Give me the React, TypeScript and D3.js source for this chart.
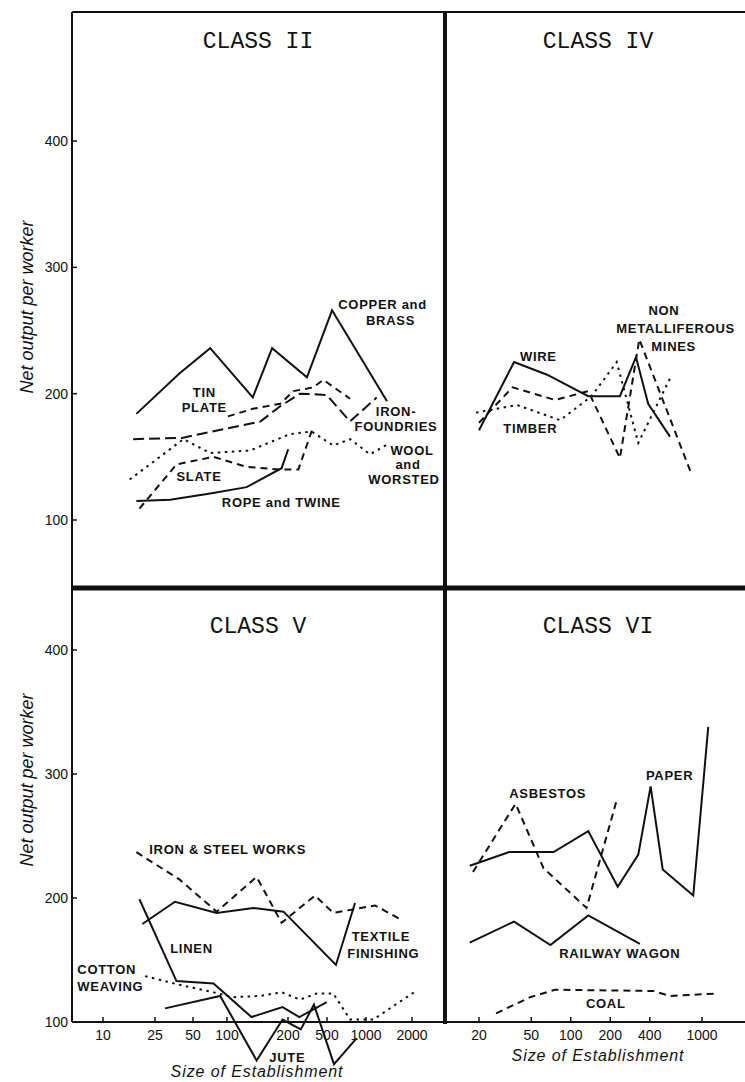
import React, { useEffect, useRef } from "react";
import * as d3 from "d3";

const W = 745;
const H = 1082;

// axis ticks
const sizeTicksLeft = [10, 25, 50, 100, 200, 500, 1000, 2000];
const sizeTicksRight = [20, 50, 100, 200, 400, 1000];
const outputTicks = [100, 200, 300, 400];

// CLASS II  (size of establishment, net output per worker)
const copperSizes = [18, 39, 71, 134, 167, 312, 547, 1372];
const copperValues = [184, 216, 236, 197, 236, 213, 266, 194];
const tinSizes = [101, 134, 183, 227, 362, 458, 753];
const tinValues = [182, 188, 192, 202, 205, 211, 196];
const ironFoundSizes = [17, 41, 146, 183, 265, 496, 753, 1175];
const ironFoundValues = [164, 165, 178, 190, 200, 199, 178, 197];
const woolSizes = [16, 42, 71, 130, 209, 349, 559, 753, 1062, 1436];
const woolValues = [132, 164, 153, 155, 168, 170, 159, 164, 152, 161];
const slateSizes = [19, 37, 76, 125, 183, 255, 362];
const slateValues = [109, 144, 150, 142, 140, 140, 174];
const ropeSizes = [18, 33, 71, 125, 186, 201];
const ropeValues = [115, 116, 121, 126, 141, 156];

// CLASS IV
const wireSizes = [20, 37, 66, 136, 237, 314, 389, 570];
const wireValues = [171, 225, 215, 198, 198, 229, 192, 166];
const nonMetSizes = [20, 36, 76, 136, 237, 333, 834];
const nonMetValues = [177, 205, 195, 202, 149, 243, 136];
const timberSizes = [19, 39, 83, 144, 224, 327, 570];
const timberValues = [185, 191, 179, 198, 225, 161, 212];

// CLASS V
const ironSteelSizes = [18, 39, 81, 140, 186, 377, 559, 1145, 1669];
const ironSteelValues = [237, 215, 189, 217, 180, 202, 188, 194, 183];
const textileSizes = [20, 36, 81, 135, 190, 586, 822];
const textileValues = [179, 197, 188, 192, 189, 146, 196];
const linenSizes = [19, 37, 76, 132, 188, 261, 497];
const linenValues = [199, 133, 131, 104, 112, 104, 116];
const juteSizes = [30, 87, 140, 188, 270, 368, 566, 848];
const juteValues = [111, 121, 69, 102, 94, 114, 66, 87];
const cottonSizes = [21, 39, 84, 107, 146, 186, 265, 392, 559, 753, 1116, 2124];
const cottonValues = [137, 130, 123, 120, 121, 124, 118, 123, 123, 102, 102, 125];

// CLASS VI
const paperSizes = [17, 34, 74, 136, 228, 327, 406, 502, 858, 1116];
const paperValues = [226, 237, 237, 254, 209, 235, 290, 223, 202, 338];
const asbestosSizes = [18, 38, 62, 132, 224];
const asbestosValues = [221, 276, 224, 192, 279];
const wagonSizes = [17, 37, 70, 136, 336];
const wagonValues = [164, 181, 162, 186, 163];
const coalSizes = [27, 49, 76, 425, 570, 1330];
const coalValues = [107, 120, 126, 125, 121, 123];

const dashes: Record<string, string | null> = {
  solid: null,
  dashed: "7,5",
  longdash: "11,5",
  dotted: "2.5,4.5"
};

function zip(xs: number[], ys: number[]) {
  return xs.map((x, i) => [x, ys[i]] as [number, number]);
}

// panel frame geometry
const left = 72, mid = 445, right = W, top = 12, split = 588, bottom = 1022;

const xLeft = d3.scaleLog().domain(sizeTicksLeft).range([103, 155, 193, 227, 288, 327, 366, 412]);
const xRight = d3.scaleLog().domain([20, 1000]).range([479, 702]);
const yTop = d3.scaleLinear().domain([100, 400]).range([520, 141]);
const yBottom = d3.scaleLinear().domain([100, 400]).range([bottom, 650]);

const panels = [
  {
    title: "CLASS II", x: xLeft, y: yTop, cx: 258, ty: 48,
    series: [
      { data: zip(copperSizes, copperValues), style: "solid" },
      { data: zip(tinSizes, tinValues), style: "dashed" },
      { data: zip(ironFoundSizes, ironFoundValues), style: "longdash" },
      { data: zip(woolSizes, woolValues), style: "dotted" },
      { data: zip(slateSizes, slateValues), style: "dashed" },
      { data: zip(ropeSizes, ropeValues), style: "solid" }
    ],
    labels: [
      { t: "COPPER and", s: 611, v: 267, a: "start" },
      { t: "BRASS", s: 1000, v: 254, a: "start" },
      { t: "TIN", s: 63, v: 197.5, a: "middle" },
      { t: "PLATE", s: 63, v: 185.7, a: "middle" },
      { t: "IRON-", s: 1572, v: 182.5, a: "middle" },
      { t: "FOUNDRIES", s: 1572, v: 170.7, a: "middle" },
      { t: "WOOL", s: 2000, v: 151.5, a: "middle" },
      { t: "and", s: 1883, v: 140, a: "middle" },
      { t: "WORSTED", s: 1773, v: 128.5, a: "middle" },
      { t: "SLATE", s: 37, v: 131, a: "start" },
      { t: "ROPE and TWINE", s: 90, v: 110, a: "start" }
    ]
  },
  {
    title: "CLASS IV", x: xRight, y: yTop, cx: 598, ty: 48,
    series: [
      { data: zip(wireSizes, wireValues), style: "solid" },
      { data: zip(nonMetSizes, nonMetValues), style: "dashed" },
      { data: zip(timberSizes, timberValues), style: "dotted" }
    ],
    labels: [
      { t: "NON", s: 513, v: 262, a: "middle" },
      { t: "METALLIFEROUS", s: 630, v: 248, a: "middle" },
      { t: "MINES", s: 608, v: 234, a: "middle" },
      { t: "WIRE", s: 41, v: 226, a: "start" },
      { t: "TIMBER", s: 30.6, v: 169, a: "start" }
    ]
  },
  {
    title: "CLASS V", x: xLeft, y: yBottom, cx: 258, ty: 633,
    series: [
      { data: zip(ironSteelSizes, ironSteelValues), style: "dashed" },
      { data: zip(textileSizes, textileValues), style: "solid" },
      { data: zip(linenSizes, linenValues), style: "solid" },
      { data: zip(juteSizes, juteValues), style: "solid" },
      { data: zip(cottonSizes, cottonValues), style: "dotted" }
    ],
    labels: [
      { t: "IRON & STEEL WORKS", s: 22.6, v: 235.5, a: "start" },
      { t: "LINEN", s: 33, v: 155.4, a: "start" },
      { t: "TEXTILE", s: 775, v: 165.5, a: "start" },
      { t: "FINISHING", s: 717, v: 151.9, a: "start" },
      { t: "COTTON", s: 6.36, v: 139, a: "start" },
      { t: "WEAVING", s: 6.36, v: 125, a: "start" },
      { t: "JUTE", s: 161.7, v: 68, a: "start" }
    ]
  },
  {
    title: "CLASS VI", x: xRight, y: yBottom, cx: 598, ty: 633,
    series: [
      { data: zip(paperSizes, paperValues), style: "solid" },
      { data: zip(asbestosSizes, asbestosValues), style: "dashed" },
      { data: zip(wagonSizes, wagonValues), style: "solid" },
      { data: zip(coalSizes, coalValues), style: "dashed" }
    ],
    labels: [
      { t: "ASBESTOS", s: 34, v: 280.4, a: "start" },
      { t: "PAPER", s: 374, v: 295.2, a: "start" },
      { t: "RAILWAY WAGON", s: 81.8, v: 151.4, a: "start" },
      { t: "COAL", s: 130.6, v: 111.5, a: "start" }
    ]
  }
];

function drawChart(svg: any) {
  svg.append("rect").attr("width", W).attr("height", H).attr("fill", "#fff");

  const frame = svg.append("g").attr("stroke", "#111").attr("fill", "none");
  frame.append("line").attr("x1", left).attr("x2", right).attr("y1", top).attr("y2", top).attr("stroke-width", 2);
  frame.append("line").attr("x1", left).attr("x2", left).attr("y1", top).attr("y2", bottom).attr("stroke-width", 2);
  frame.append("line").attr("x1", mid).attr("x2", mid).attr("y1", top).attr("y2", bottom + 2).attr("stroke-width", 4);
  frame.append("line").attr("x1", left).attr("x2", right).attr("y1", split).attr("y2", split).attr("stroke-width", 5);
  frame.append("line").attr("x1", left).attr("x2", right).attr("y1", bottom).attr("y2", bottom).attr("stroke-width", 2);

  // y axes
  [yTop, yBottom].forEach((y, i) => {
    const g = svg.append("g");
    outputTicks.forEach(t => {
      g.append("line").attr("x1", left).attr("x2", left + 5).attr("y1", y(t)).attr("y2", y(t))
        .attr("stroke", "#111").attr("stroke-width", 1.5);
      g.append("text").attr("x", left - 4).attr("y", y(t)).attr("dy", "0.36em")
        .attr("text-anchor", "end").style("font", "14px 'Liberation Sans', sans-serif").attr("fill", "#111")
        .text(t);
    });
    const cy = i === 0 ? 307 : 780;
    svg.append("text").attr("transform", `translate(33,${cy}) rotate(-90)`)
      .attr("text-anchor", "middle").style("font", "italic 18px 'Liberation Sans', sans-serif")
      .attr("fill", "#111").text("Net output per worker");
  });

  // x axes
  [[xLeft, sizeTicksLeft, 257, 1077], [xRight, sizeTicksRight, 598, 1061]].forEach(([x, ticks, cx, ly]: any) => {
    const g = svg.append("g");
    ticks.forEach((t: number) => {
      g.append("line").attr("x1", x(t)).attr("x2", x(t)).attr("y1", bottom).attr("y2", bottom - 5)
        .attr("stroke", "#111").attr("stroke-width", 1.5);
      g.append("text").attr("x", x(t)).attr("y", 1040).attr("text-anchor", "middle")
        .style("font", "14px 'Liberation Sans', sans-serif").attr("fill", "#111").text(t);
    });
    svg.append("text").attr("x", cx).attr("y", ly).attr("text-anchor", "middle")
      .style("font", "italic 16px 'Liberation Sans', sans-serif").style("letter-spacing", "0.9px")
      .attr("fill", "#111").text("Size of Establishment");
  });

  panels.forEach(p => {
    svg.append("text").attr("x", p.cx).attr("y", p.ty).attr("text-anchor", "middle")
      .style("font", "23px 'Liberation Mono', monospace").attr("fill", "#111").text(p.title);

    const line = d3.line<[number, number]>()
      .x(d => p.x(d[0]))
      .y(d => p.y(d[1]));

    const g = svg.append("g");
    g.selectAll("path").data(p.series).enter().append("path")
      .attr("d", (d: any) => line(d.data))
      .attr("fill", "none")
      .attr("stroke", "#111")
      .attr("stroke-width", 2)
      .attr("stroke-linejoin", "miter")
      .attr("stroke-dasharray", (d: any) => dashes[d.style]);

    g.selectAll("text").data(p.labels).enter().append("text")
      .attr("x", (d: any) => p.x(d.s))
      .attr("y", (d: any) => p.y(d.v))
      .attr("text-anchor", (d: any) => d.a)
      .style("font", "bold 13px 'Liberation Sans', sans-serif")
      .style("letter-spacing", "0.7px")
      .attr("fill", "#111")
      .text((d: any) => d.t);
  });
}

export default function App() {
  const ref = useRef<SVGSVGElement>(null);
  useEffect(() => {
    const svg = d3.select(ref.current);
    svg.selectAll("*").remove();
    drawChart(svg);
  }, []);
  return (
    <svg ref={ref} width={W} height={H}
      style={{ position: "absolute", left: 0, top: 0, display: "block" }} />
  );
}
